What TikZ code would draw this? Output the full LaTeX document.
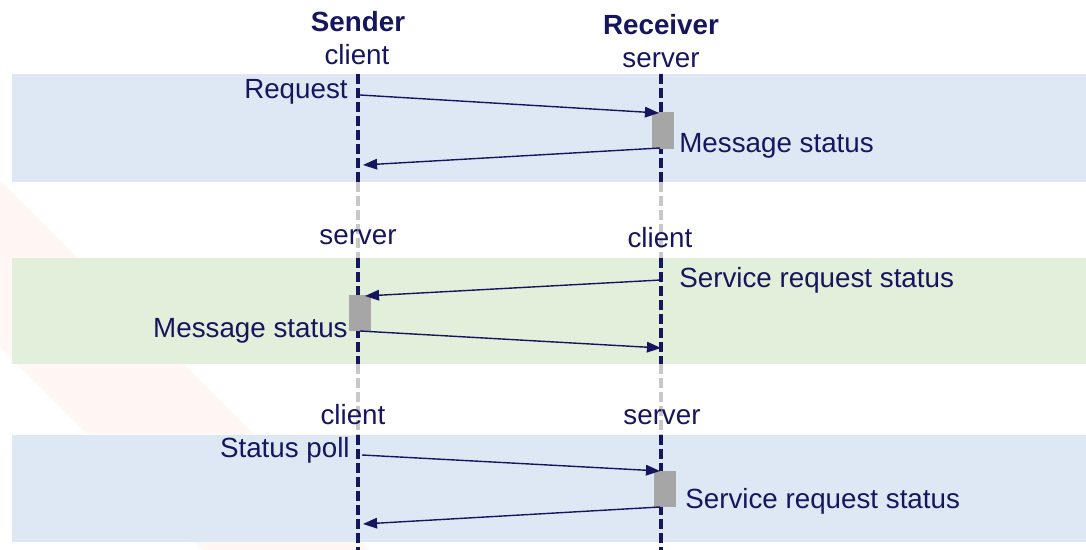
\documentclass[tikz,border=0pt]{standalone}
\usepackage{fontspec}
\setmainfont{Liberation Sans}
\usetikzlibrary{arrows.meta}
\definecolor{navy}{RGB}{22,22,94}
\definecolor{bandblue}{RGB}{222,232,244}
\definecolor{bandgreen}{RGB}{226,239,218}
\definecolor{actgray}{RGB}{166,166,166}
\definecolor{idlegray}{RGB}{200,200,200}
\definecolor{peach}{RGB}{255,247,244}

\begin{document}
\begin{tikzpicture}[x=0.02cm, y=-0.02cm, >={Triangle[length=8pt,width=6pt]},
      every node/.style={text=navy, font=\fontsize{15.8}{19}\selectfont, inner sep=0pt},
      lifeline/.style={draw=navy, line width=2.3pt, dash pattern=on 5.5pt off 2.5pt},
      idle/.style={draw=idlegray, line width=2.3pt, dash pattern=on 5.5pt off 2.5pt},
      activity/.style={fill=actgray, minimum width=12.5pt, minimum height=21pt},
      message/.style={draw=navy, line width=0.8pt, ->}]
      \useasboundingbox (0,0) rectangle (1086,550);
      % background stripe and the three phases
      \fill[peach] (0,180) -- (0,347) -- (203,550) -- (370,550) -- cycle;
      \fill[bandblue] (12,74) rectangle (1086,182);
      \fill[bandgreen] (12,258) rectangle (1086,364);
      \fill[bandblue] (12,435) rectangle (1086,542);
      % lifelines, dark inside a phase, grey between
      \coordinate (s0) at (358,74);  \coordinate (r0) at (661,74);
      \coordinate (s1) at (358,182); \coordinate (r1) at (661,182);
      \coordinate (s2) at (358,258); \coordinate (r2) at (661,258);
      \coordinate (s3) at (358,364); \coordinate (r3) at (661,364);
      \coordinate (s4) at (358,435); \coordinate (r4) at (661,435);
      \coordinate (s5) at (358,550); \coordinate (r5) at (661,550);
      \draw[lifeline] (s0) -- (s1);
      \draw[idle] (s1) -- (s2);
      \draw[lifeline] (s2) -- (s3);
      \draw[idle] (s3) -- (s4);
      \draw[lifeline] (s4) -- (s5);
      \draw[lifeline] (r0) -- (r1);
      \draw[idle] (r1) -- (r2);
      \draw[lifeline] (r2) -- (r3);
      \draw[idle] (r3) -- (r4);
      \draw[lifeline] (r4) -- (r5);
      % processing boxes
      \node[activity] (act1) at (663,130.5) {};
      \node[activity] (act2) at (360,313) {};
      \node[activity] (act3) at (665,489) {};
      % message ends
      \coordinate (m1a) at (360,95);  \coordinate (m1b) at (659,113);
      \coordinate (m2a) at (660,148); \coordinate (m2b) at (363,165);
      \coordinate (m3a) at (661,280); \coordinate (m3b) at (365,296);
      \coordinate (m4a) at (360,331); \coordinate (m4b) at (661,348);
      \coordinate (m5a) at (362,455); \coordinate (m5b) at (660,471);
      \coordinate (m6a) at (660,507); \coordinate (m6b) at (363,524);
      \draw[message] (m1a) -- (m1b);
      \draw[message] (m2a) -- (m2b);
      \draw[message] (m3a) -- (m3b);
      \draw[message] (m4a) -- (m4b);
      \draw[message] (m5a) -- (m5b);
      \draw[message] (m6a) -- (m6b);
      % headings and roles
      \node[anchor=base] (sender) at (358,32) {\textbf{Sender}};
      \node[anchor=base] (receiver) at (661,35) {\textbf{Receiver}};
      \node[anchor=base] (role1s) at (357,65) {client};
      \node[anchor=base] (role1r) at (661,68) {server};
      \node[anchor=base] (role2s) at (358,245) {server};
      \node[anchor=base] (role2r) at (660,248) {client};
      \node[anchor=base] (role3s) at (353,425) {client};
      \node[anchor=base] (role3r) at (662,425) {server};
      % message labels
      \node[anchor=base east] (request) at (348,99) {Request};
      \node[anchor=base west] (status1) at (679,153) {Message status};
      \node[anchor=base west] (srs2) at (679,288) {Service request status};
      \node[anchor=base east] (status2) at (348,338) {Message status};
      \node[anchor=base east] (poll) at (350,458) {Status poll};
      \node[anchor=base west] (srs3) at (685,509) {Service request status};
\end{tikzpicture}
\end{document}
